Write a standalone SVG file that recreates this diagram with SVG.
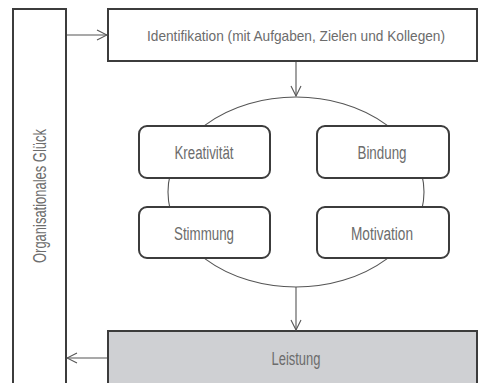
<svg xmlns="http://www.w3.org/2000/svg" width="478" height="383" viewBox="0 0 478 383">
<defs>
<style>
.box{fill:#fff;stroke:#3c3c3c;stroke-width:2}
.rbox{fill:#fff;stroke:#3c3c3c;stroke-width:2}
.lbl{font-family:"Liberation Sans",Arial,sans-serif;font-size:18px;fill:#6c6c6c;text-anchor:middle}
.con{fill:none;stroke:#555;stroke-width:1.1}
</style>
<marker id="ah" viewBox="0 0 12 12" refX="11" refY="6" markerWidth="12" markerHeight="12" markerUnits="userSpaceOnUse" orient="auto">
<path d="M1,1 L11,6 L1,11" fill="none" stroke="#555" stroke-width="1.1"/>
</marker>
</defs>
<rect width="478" height="383" fill="#fff"/>
<g id="ellipse">
<ellipse cx="296" cy="192" rx="128" ry="95" fill="#fff" stroke="#555" stroke-width="1.1"/>
</g>
<g id="glueck">
<rect class="box" x="13" y="9" width="53" height="384"/>
<text class="lbl" transform="translate(46,196) rotate(-90)" textLength="134" lengthAdjust="spacingAndGlyphs">Organisationales Glück</text>
</g>
<g id="identifikation">
<rect class="box" x="108" y="9" width="369" height="52"/>
<text class="lbl" x="296" y="41" style="font-size:15px" textLength="298" lengthAdjust="spacingAndGlyphs">Identifikation (mit Aufgaben, Zielen und Kollegen)</text>
</g>
<g id="kreativitaet">
<rect class="rbox" x="139" y="126" width="131" height="52" rx="8"/>
<text class="lbl" x="204" y="159" textLength="59" lengthAdjust="spacingAndGlyphs">Kreativität</text>
</g>
<g id="bindung">
<rect class="rbox" x="317" y="126" width="132" height="52" rx="8"/>
<text class="lbl" x="382" y="159" textLength="49" lengthAdjust="spacingAndGlyphs">Bindung</text>
</g>
<g id="stimmung">
<rect class="rbox" x="139" y="207" width="131" height="51" rx="8"/>
<text class="lbl" x="204" y="240" textLength="60" lengthAdjust="spacingAndGlyphs">Stimmung</text>
</g>
<g id="motivation">
<rect class="rbox" x="317" y="207" width="132" height="51" rx="8"/>
<text class="lbl" x="382" y="240" textLength="62" lengthAdjust="spacingAndGlyphs">Motivation</text>
</g>
<g id="leistung">
<rect x="108" y="331" width="369" height="62" fill="#cfd0d3" stroke="#3c3c3c" stroke-width="2"/>
<text class="lbl" x="296" y="365" textLength="49" lengthAdjust="spacingAndGlyphs">Leistung</text>
</g>
<g id="connectors">
<line class="con" x1="67" y1="35" x2="107" y2="35" marker-end="url(#ah)"/>
<line class="con" x1="296" y1="62" x2="296" y2="96" marker-end="url(#ah)"/>
<line class="con" x1="296" y1="287" x2="296" y2="330" marker-end="url(#ah)"/>
<line class="con" x1="107" y1="358" x2="67" y2="358" marker-end="url(#ah)"/>
</g>
</svg>
